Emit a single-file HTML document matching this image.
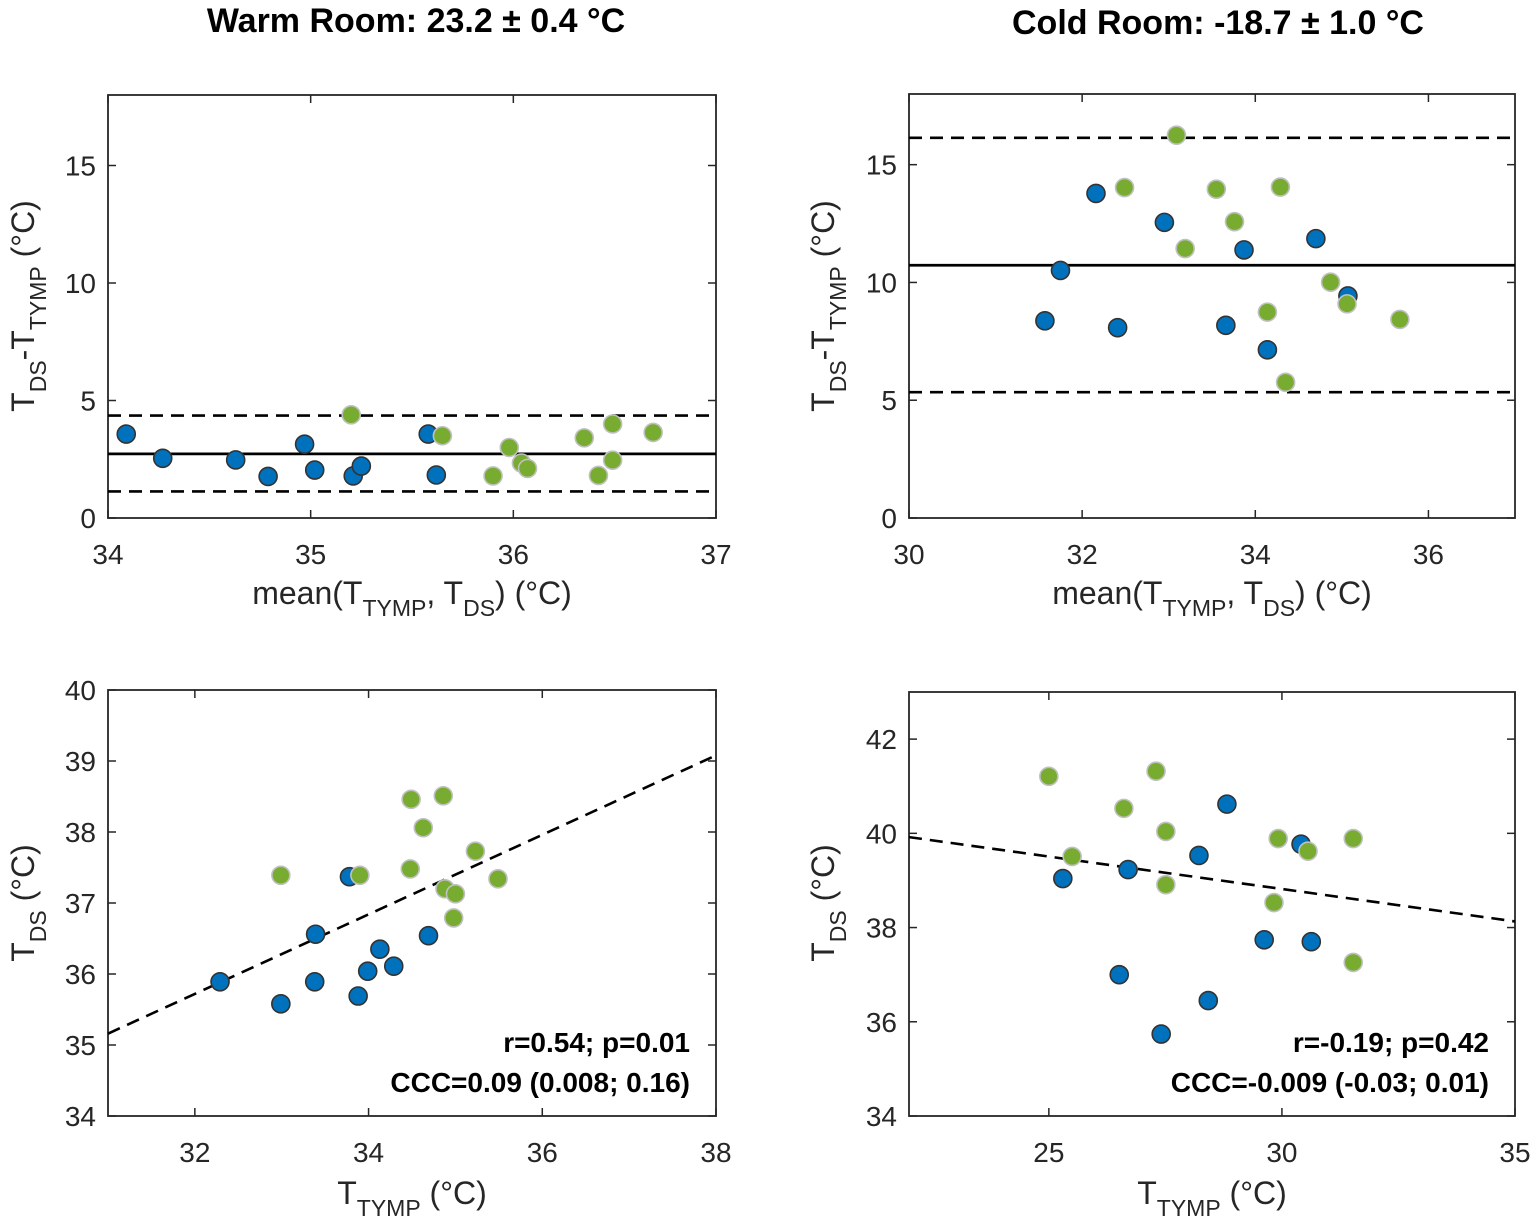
<!DOCTYPE html>
<html><head><meta charset="utf-8"><style>
html,body{margin:0;padding:0;background:#fff;}
svg{display:block;font-family:"Liberation Sans",sans-serif;}
</style></head><body>
<svg id="fig" width="1535" height="1226" viewBox="0 0 1535 1226" xmlns="http://www.w3.org/2000/svg">
<text x="416" y="32" text-anchor="middle" font-size="34" font-weight="bold" fill="#000">Warm Room: 23.2 ± 0.4 °C</text>
<text x="1218" y="34" text-anchor="middle" font-size="34" font-weight="bold" fill="#000">Cold Room: -18.7 ± 1.0 °C</text>
</svg>
<script>
// ---- data ----
const tlBlueX=[34.09,34.27,34.63,34.79,34.97,35.02,35.21,35.25,35.58,35.62];
const tlBlueY=[3.57,2.54,2.47,1.77,3.14,2.04,1.79,2.21,3.57,1.83];
const tlGreenX=[35.20,35.65,35.98,36.04,36.07,35.90,36.35,36.49,36.49,36.42,36.69];
const tlGreenY=[4.39,3.50,3.00,2.34,2.11,1.79,3.41,4.00,2.46,1.81,3.64];
const tlLines=[2.73,4.36,1.13];
const trBlueX=[32.16,32.95,33.87,34.70,31.75,31.57,32.41,33.66,34.14,35.07];
const trBlueY=[13.78,12.55,11.38,11.86,10.51,8.37,8.08,8.18,7.14,9.43];
const trGreenX=[33.09,32.49,33.55,34.29,33.76,33.19,34.87,35.06,34.14,35.67,34.35];
const trGreenY=[16.25,14.03,13.96,14.05,12.58,11.44,10.01,9.09,8.74,8.43,5.76];
const trLines=[10.73,16.14,5.34];
const blBlueX=[32.29,32.99,33.39,33.38,33.78,33.88,33.99,34.13,34.29,34.69];
const blBlueY=[35.89,35.58,36.56,35.89,37.37,35.69,36.04,36.35,36.11,36.54];
const blGreenX=[32.99,33.90,34.49,34.86,34.63,34.48,35.23,35.49,34.88,35.00,34.98];
const blGreenY=[37.39,37.39,38.46,38.51,38.06,37.48,37.73,37.34,37.20,37.13,36.79];
const blFit=[35.16,39.08];
const brBlueX=[28.82,30.41,28.22,26.70,25.30,29.62,30.63,26.51,28.42,27.41];
const brBlueY=[40.62,39.77,39.53,39.23,39.04,37.74,37.70,37.00,36.45,35.74];
const brGreenX=[25.00,27.30,26.61,27.51,25.50,27.51,29.92,30.56,31.53,29.83,31.53];
const brGreenY=[41.21,41.32,40.53,40.04,39.51,38.91,39.89,39.62,39.89,38.53,37.26];
const brFit=[39.92,38.13];
const tlXTicks=[34,35,36,37], tlYTicks=[0,5,10,15];
const trXTicks=[30,32,34,36], trYTicks=[0,5,10,15];
const blXTicks=[32,34,36,38], blYTicks=[34,35,36,37,38,39,40];
const brXTicks=[25,30,35], brYTicks=[34,36,38,40,42];

const NS="http://www.w3.org/2000/svg";
const svg=document.getElementById('fig');
function mk(tag,attrs,parent){const e=document.createElementNS(NS,tag);for(const k in attrs)e.setAttribute(k,attrs[k]);(parent||svg).appendChild(e);return e;}

function panel(id,box,xd,yd,xt,yt){
  const g=mk('g',{});
  
  
  const sx=v=>box.x0+(v-xd[0])/(xd[1]-xd[0])*(box.x1-box.x0);
  const sy=v=>box.y1-(v-yd[0])/(yd[1]-yd[0])*(box.y1-box.y0);
  xt.forEach(v=>{
    const x=sx(v);
    const t=mk('line',{x1:x,x2:x,y1:box.y1,y2:box.y1-8,stroke:'#262626','stroke-width':1.5},g);
    
    
    mk('line',{x1:x,x2:x,y1:box.y0,y2:box.y0+8,stroke:'#262626','stroke-width':1.5},g);
    const l=mk('text',{x:x,y:box.y1+46,'text-anchor':'middle','font-size':28,fill:'#262626'},g);
    l.textContent=v;
    
    
  });
  yt.forEach(v=>{
    const y=sy(v);
    const t=mk('line',{x1:box.x0,x2:box.x0+8,y1:y,y2:y,stroke:'#262626','stroke-width':1.5},g);
    
    
    mk('line',{x1:box.x1,x2:box.x1-8,y1:y,y2:y,stroke:'#262626','stroke-width':1.5},g);
    const l=mk('text',{x:box.x0-12,y:y+10,'text-anchor':'end','font-size':28,fill:'#262626'},g);
    l.textContent=v;
    
    
  });
  const r=mk('rect',{x:box.x0,y:box.y0,width:box.x1-box.x0,height:box.y1-box.y0,fill:'none',stroke:'#262626','stroke-width':1.8},g);
  
  
  return {g,sx,sy};
}
function dots(p,xs,ys,fill,stroke,name){
  xs.forEach((v,i)=>{
    const c=mk('circle',{cx:p.sx(v),cy:p.sy(ys[i]),r:9,fill:fill,stroke:stroke,'stroke-width':1.6},p.g);
    
    
  });
}
function hline(p,box,v,dash,w,name){
  const l=mk('line',{x1:box.x0,x2:box.x1,y1:p.sy(v),y2:p.sy(v),stroke:'#000','stroke-width':w},p.g);
  if(dash)l.setAttribute('stroke-dasharray','13,8');
  
  
}
const BLUE='#0072BD',BS='#333',GREEN='#77AC30',GS='#c0c0c0';

const b1={x0:108,x1:716,y0:95,y1:518};
const p1=panel('warm-bland-altman',b1,[34,37],[0,18],tlXTicks,tlYTicks);
hline(p1,b1,tlLines[0],false,2.8,'mean-bias-line');
hline(p1,b1,tlLines[1],true,2.6,'upper-loa-line');
hline(p1,b1,tlLines[2],true,2.6,'lower-loa-line');
dots(p1,tlBlueX,tlBlueY,BLUE,BS,'blue-point');
dots(p1,tlGreenX,tlGreenY,GREEN,GS,'green-point');
const b2={x0:909,x1:1515,y0:94,y1:518};
const p2=panel('cold-bland-altman',b2,[30,37],[0,18],trXTicks,trYTicks);
hline(p2,b2,trLines[0],false,2.8,'mean-bias-line');
hline(p2,b2,trLines[1],true,2.6,'upper-loa-line');
hline(p2,b2,trLines[2],true,2.6,'lower-loa-line');
dots(p2,trBlueX,trBlueY,BLUE,BS,'blue-point');
dots(p2,trGreenX,trGreenY,GREEN,GS,'green-point');
const b3={x0:108,x1:716,y0:690,y1:1116};
const p3=panel('warm-correlation',b3,[31,38],[34,40],blXTicks,blYTicks);
const f3=mk('line',{x1:p3.sx(31),x2:p3.sx(38),y1:p3.sy(blFit[0]),y2:p3.sy(blFit[1]),stroke:'#000','stroke-width':2.6,'stroke-dasharray':'13,8'},p3.g);


dots(p3,blBlueX,blBlueY,BLUE,BS,'blue-point');
dots(p3,blGreenX,blGreenY,GREEN,GS,'green-point');
const b4={x0:909,x1:1515,y0:692,y1:1116};
const p4=panel('cold-correlation',b4,[22,35],[34,43],brXTicks,brYTicks);
const f4=mk('line',{x1:p4.sx(22),x2:p4.sx(35),y1:p4.sy(brFit[0]),y2:p4.sy(brFit[1]),stroke:'#000','stroke-width':2.6,'stroke-dasharray':'13,8'},p4.g);


dots(p4,brBlueX,brBlueY,BLUE,BS,'blue-point');
dots(p4,brGreenX,brGreenY,GREEN,GS,'green-point');
</script>
<svg style="position:absolute;left:0;top:0" width="1535" height="1226" xmlns="http://www.w3.org/2000/svg" font-family="Liberation Sans, sans-serif" fill="#262626">
<g>
<text x="412" y="604" text-anchor="middle" font-size="32">mean(T<tspan font-size="23" dy="12">TYMP</tspan><tspan dy="-12">, T</tspan><tspan font-size="23" dy="12">DS</tspan><tspan dy="-12">) (°C)</tspan></text>
<text x="1212" y="604" text-anchor="middle" font-size="32">mean(T<tspan font-size="23" dy="12">TYMP</tspan><tspan dy="-12">, T</tspan><tspan font-size="23" dy="12">DS</tspan><tspan dy="-12">) (°C)</tspan></text>
<text x="412" y="1204" text-anchor="middle" font-size="32">T<tspan font-size="23" dy="12">TYMP</tspan><tspan dy="-12"> (°C)</tspan></text>
<text x="1212" y="1204" text-anchor="middle" font-size="32">T<tspan font-size="23" dy="12">TYMP</tspan><tspan dy="-12"> (°C)</tspan></text>
<text transform="translate(34,306) rotate(-90)" text-anchor="middle" font-size="32">T<tspan font-size="23" dy="12">DS</tspan><tspan dy="-12">-T</tspan><tspan font-size="23" dy="12">TYMP</tspan><tspan dy="-12"> (°C)</tspan></text>
<text transform="translate(834,306) rotate(-90)" text-anchor="middle" font-size="32">T<tspan font-size="23" dy="12">DS</tspan><tspan dy="-12">-T</tspan><tspan font-size="23" dy="12">TYMP</tspan><tspan dy="-12"> (°C)</tspan></text>
<text transform="translate(34,903) rotate(-90)" text-anchor="middle" font-size="32">T<tspan font-size="23" dy="12">DS</tspan><tspan dy="-12"> (°C)</tspan></text>
<text transform="translate(834,903) rotate(-90)" text-anchor="middle" font-size="32">T<tspan font-size="23" dy="12">DS</tspan><tspan dy="-12"> (°C)</tspan></text>
</g>
<g font-weight="bold" fill="#000" font-size="28" text-anchor="end">
<text x="690" y="1052">r=0.54; p=0.01</text>
<text x="690" y="1092">CCC=0.09 (0.008; 0.16)</text>
<text x="1489" y="1052">r=-0.19; p=0.42</text>
<text x="1489" y="1092">CCC=-0.009 (-0.03; 0.01)</text>
</g>
</svg>
</body></html>
